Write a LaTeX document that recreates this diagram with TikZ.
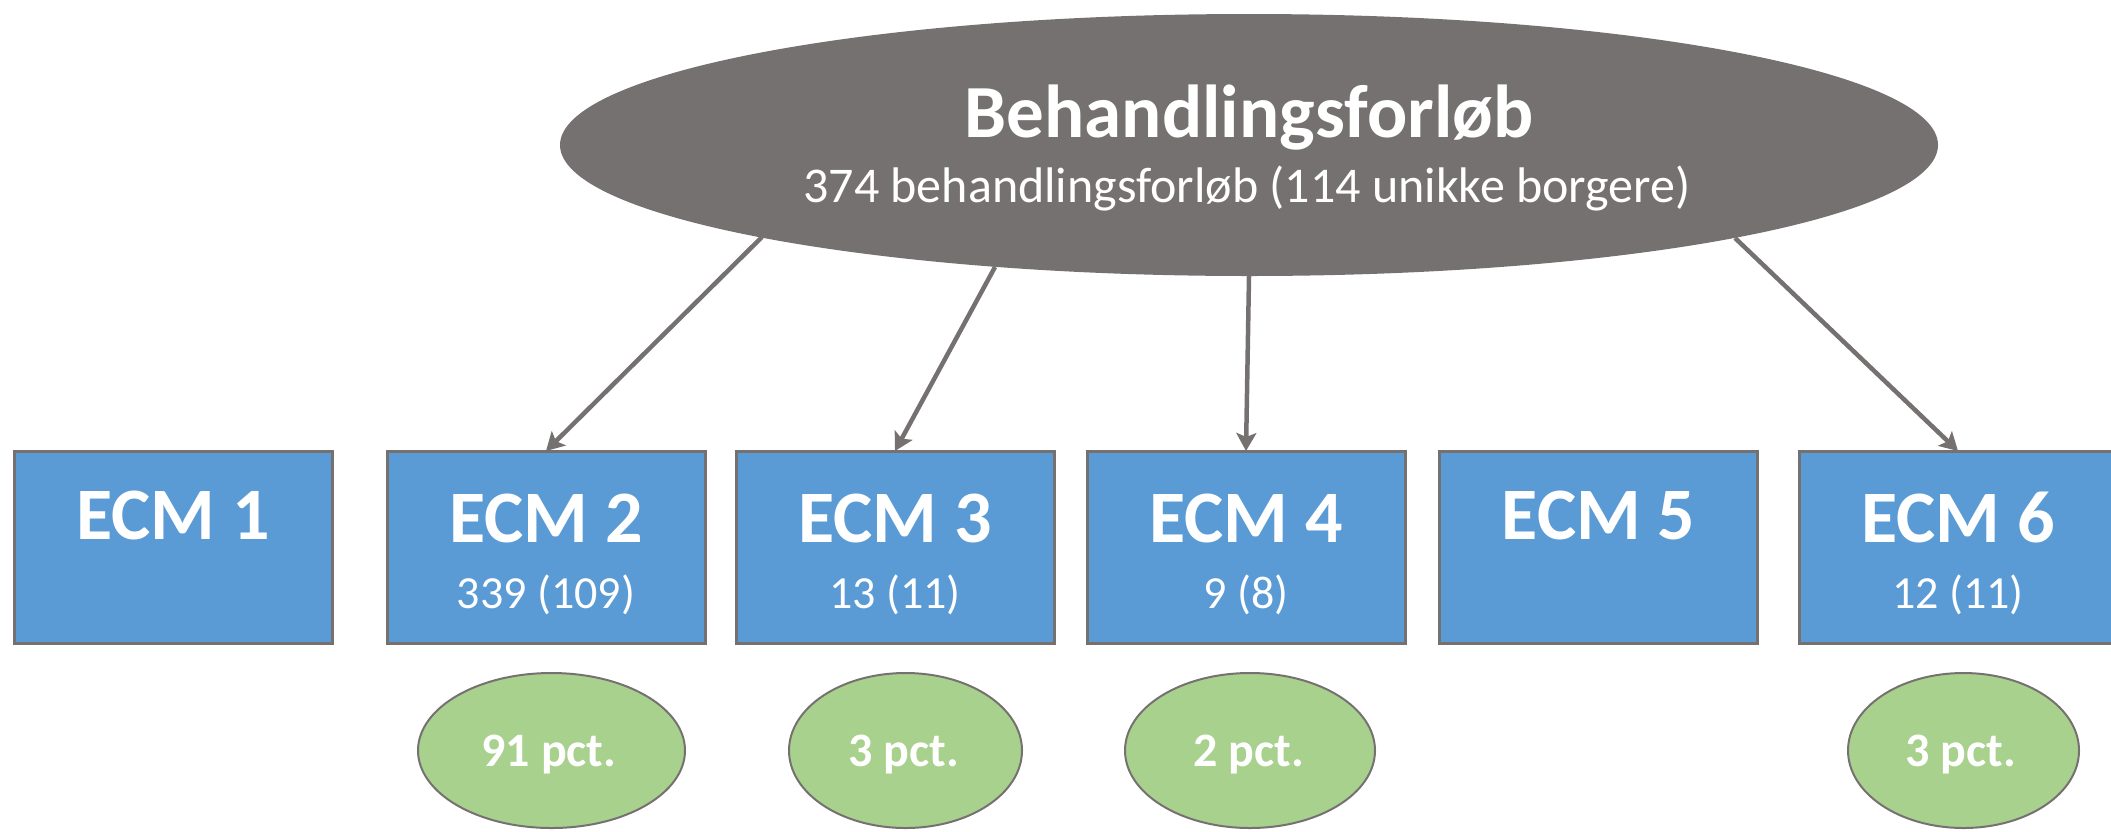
\documentclass[tikz,border=0pt]{standalone}
\usepackage{fontspec}
\setmainfont{Carlito}
\usetikzlibrary{shapes.geometric,arrows.meta}
\definecolor{egray}{HTML}{767171}
\definecolor{eblue}{HTML}{5B9BD5}
\definecolor{egreen}{HTML}{A9D18E}
\begin{document}
\begin{tikzpicture}[x=1pt,y=-1pt,
 main/.style={ellipse, fill=egray, minimum width=1378pt, minimum height=262pt, inner sep=0pt, outer sep=0pt},
 ecm/.style={draw=egray, line width=3pt, fill=eblue, minimum width=318pt, minimum height=192pt, inner sep=0pt, outer sep=0pt},
 pct/.style={ellipse, draw=egray, line width=2pt, fill=egreen, minimum height=155pt, inner sep=0pt, outer sep=0pt},
 ttl/.style={text=white, font=\fontsize{75}{80}\selectfont\bfseries, anchor=base, inner sep=0pt},
 sub/.style={text=white, font=\fontsize{50}{55}\selectfont, anchor=base, inner sep=0pt},
 lbl/.style={text=white, font=\fontsize{74}{80}\selectfont\bfseries, anchor=base, inner sep=0pt},
 num/.style={text=white, font=\fontsize{46}{50}\selectfont, anchor=base, inner sep=0pt},
 ptxt/.style={text=white, font=\fontsize{48}{52}\selectfont\bfseries, anchor=base, inner sep=0pt},
 conn/.style={draw=egray, line width=4.5pt, -{Stealth[length=18pt,width=20pt,inset=4pt]}}]
\useasboundingbox (0,0) rectangle (2111,831);
% top ellipse
\node[main] (ell) at (1249,145) {};
\node[ttl] (ttitle) at (1249,137) {Behandlingsforløb};
\node[sub] (tsub) at (1247,202) {374 behandlingsforløb (114 unikke borgere)};
\coordinate (s1) at (762,237);
\coordinate (s2) at (995,267);
\coordinate (s4) at (1735,238);
% boxes
\node[ecm] (b1) at (173,547) {};
\node[ecm] (b2) at (546,547) {};
\node[ecm] (b3) at (895,547) {};
\node[ecm] (b4) at (1246,547) {};
\node[ecm] (b5) at (1598.5,547) {};
\node[ecm] (b6) at (1958,547) {};
\node[lbl] (l1) at (173,539) {ECM 1};
\node[lbl] (l2) at (546,542) {ECM 2};
\node[lbl] (l3) at (895,542) {ECM 3};
\node[lbl] (l4) at (1246,542) {ECM 4};
\node[lbl] (l5) at (1598.5,539) {ECM 5};
\node[lbl] (l6) at (1958,542) {ECM 6};
\node[num] (n2) at (546,608) {339 (109)};
\node[num] (n3) at (895,608) {13 (11)};
\node[num] (n4) at (1246,608) {9 (8)};
\node[num] (n6) at (1958,608) {12 (11)};
% percent ellipses
\node[pct, minimum width=267pt] (p2) at (551.5,750.5) {};
\node[pct, minimum width=233pt] (p3) at (905.5,750.5) {};
\node[pct, minimum width=250pt] (p4) at (1250,750.5) {};
\node[pct, minimum width=231pt] (p6) at (1963.5,750.5) {};
\node[ptxt] (t2) at (549,766) {91 pct.};
\node[ptxt] (t3) at (904,766) {3 pct.};
\node[ptxt] (t4) at (1249,766) {2 pct.};
\node[ptxt] (t6) at (1961,766) {3 pct.};
% connectors
\draw[conn] (s1) -- (b2.north);
\draw[conn] (s2) -- (b3.north);
\draw[conn] (ell.south) -- (b4.north);
\draw[conn] (s4) -- (b6.north);
\end{tikzpicture}
\end{document}
